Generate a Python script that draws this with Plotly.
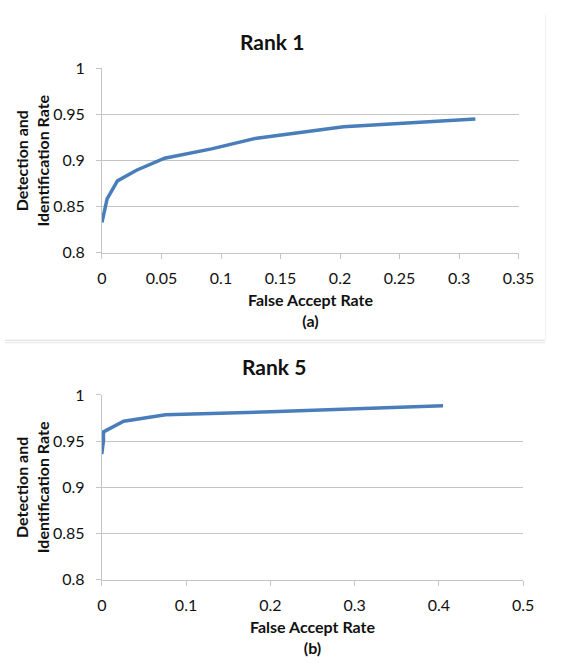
import plotly.graph_objects as go

# ---- data ----
rank1_far = [0.0, 0.002, 0.0043, 0.013, 0.029, 0.0526, 0.092, 0.130, 0.203, 0.3137]
rank1_rate = [0.833, 0.844, 0.8586, 0.878, 0.8895, 0.9025, 0.9127, 0.9243, 0.9366, 0.945]

rank5_far = [0.0, 0.002, 0.002, 0.026, 0.0757, 0.2, 0.405]
rank5_rate = [0.936, 0.9505, 0.960, 0.9716, 0.9785, 0.9817, 0.9884]

titles = ["Rank 1", "Rank 5"]
sublabels = ["(a)", "(b)"]
y_ticks = [0.8, 0.85, 0.9, 0.95, 1.0]
y_ticktext = ["0.8", "0.85", "0.9", "0.95", "1"]
x1_ticks = [0, 0.05, 0.1, 0.15, 0.2, 0.25, 0.3, 0.35]
x1_ticktext = ["0", "0.05", "0.1", "0.15", "0.2", "0.25", "0.3", "0.35"]
x2_ticks = [0, 0.1, 0.2, 0.3, 0.4, 0.5]
x2_ticktext = ["0", "0.1", "0.2", "0.3", "0.4", "0.5"]

W, H = 568, 664
FONT = "Lato, Open Sans, sans-serif"
LINE = "#4A7EBB"
GRID = "#c4c4c4"


def px_x(p):
    return p / W


def px_y(p):
    return 1 - p / H


fig = go.Figure()
fig.add_trace(go.Scatter(x=rank1_far, y=rank1_rate, mode="lines",
                         line=dict(color=LINE, width=3.5), xaxis="x", yaxis="y",
                         showlegend=False))
fig.add_trace(go.Scatter(x=rank5_far, y=rank5_rate, mode="lines",
                         line=dict(color=LINE, width=3.5), xaxis="x2", yaxis="y2",
                         showlegend=False))

axis_common = dict(showgrid=False, showline=True, linecolor=GRID, linewidth=1,
                   ticks="outside", ticklen=5, tickcolor=GRID, tickwidth=1,
                   tickfont=dict(family=FONT, size=16, color="#111"),
                   zeroline=False, fixedrange=True)

top_y = [60, 250]
bot_y = [396.3, 586.3]

fig.update_layout(
    width=W, height=H, margin=dict(l=0, r=0, t=0, b=0),
    paper_bgcolor="white", plot_bgcolor="white",
    font=dict(family=FONT, color="#111"),
    xaxis=dict(domain=[px_x(100.7), px_x(533.3)], range=[0, 0.35],
               tickvals=x1_ticks, ticktext=x1_ticktext, anchor="y",
               ticklabelstandoff=6, **axis_common),
    yaxis=dict(domain=[px_y(top_y[1]), px_y(top_y[0])], range=[0.8, 1.0],
               tickvals=y_ticks, ticktext=y_ticktext, anchor="x",
               ticklabelstandoff=8, **{**axis_common, "showgrid": True, "gridcolor": GRID}),
    xaxis2=dict(domain=[px_x(100.5), px_x(538)], range=[0, 0.5],
                tickvals=x2_ticks, ticktext=x2_ticktext, anchor="y2",
                ticklabelstandoff=6, **axis_common),
    yaxis2=dict(domain=[px_y(bot_y[1]), px_y(bot_y[0])], range=[0.8, 1.0],
                tickvals=y_ticks, ticktext=y_ticktext, anchor="x2",
                ticklabelstandoff=8, **{**axis_common, "showgrid": True, "gridcolor": GRID}),
)

annotations = []
for i, (yt, ybounds, xcenter, xtitle_y) in enumerate([
        (32, top_y, 277, 309), (367, bot_y, 279, 645)]):
    annotations.append(dict(text="<b>%s</b>" % titles[i], x=px_x(xcenter), y=px_y(yt),
                            xref="paper", yref="paper", showarrow=False,
                            xanchor="center", yanchor="middle",
                            font=dict(family=FONT, size=21, color="#111")))
    annotations.append(dict(text="<b>Detection and<br>Identification Rate</b>",
                            x=px_x(28), y=px_y((ybounds[0] + ybounds[1]) / 2),
                            xref="paper", yref="paper", showarrow=False, textangle=-90,
                            xanchor="center", yanchor="middle",
                            font=dict(family=FONT, size=16, color="#111")))
    annotations.append(dict(text="<b>False Accept Rate<br>%s</b>" % sublabels[i],
                            x=px_x(xcenter + 40), y=px_y(xtitle_y),
                            xref="paper", yref="paper", showarrow=False,
                            xanchor="center", yanchor="middle",
                            font=dict(family=FONT, size=16, color="#111")))
fig.update_layout(annotations=annotations)

# separator lines between the two panels and faint right border
fig.update_layout(shapes=[
    dict(type="line", xref="paper", yref="paper", x0=0, x1=px_x(561),
         y0=px_y(340), y1=px_y(340), line=dict(color="#dcdcdc", width=1)),
    dict(type="line", xref="paper", yref="paper", x0=0, x1=px_x(561),
         y0=px_y(342.5), y1=px_y(342.5), line=dict(color="#e4e4e4", width=1)),
    dict(type="line", xref="paper", yref="paper", x0=px_x(561.5), x1=px_x(561.5),
         y0=px_y(340), y1=px_y(5), line=dict(color="#f0f0f0", width=1)),
])

fig.write_html(
    "out.html",
    config={"displayModeBar": False, "staticPlot": True},
    post_script=("document.body.style.margin='0';"
                 "document.body.style.overflow='hidden';"
                 "document.documentElement.style.overflow='hidden';"),
)
